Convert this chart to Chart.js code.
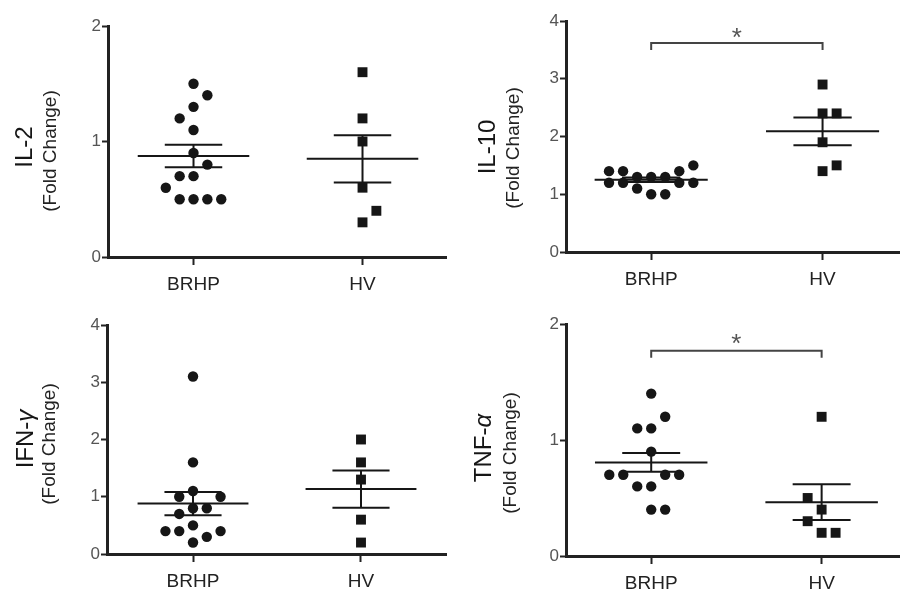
<!DOCTYPE html>
<html>
<head>
<meta charset="utf-8">
<script src="https://cdn.jsdelivr.net/npm/chart.js@4.4.1/dist/chart.umd.min.js"></script>
<style>
  body { margin: 0; background: #fff; }
  canvas { position: absolute; }
</style>
</head>
<body>
<canvas id="il2" width="453" height="295" style="left:0;top:0"></canvas>
<canvas id="il10" width="453" height="295" style="left:453px;top:0"></canvas>
<canvas id="ifn" width="453" height="294" style="left:0;top:295px"></canvas>
<canvas id="tnf" width="453" height="294" style="left:453px;top:295px"></canvas>
<script>
const groups = ['BRHP', 'HV']

// IL-2
const il2Brhp = [1.5, 1.4, 1.3, 1.2, 1.1, 0.9, 0.8, 0.7, 0.7, 0.6, 0.5, 0.5, 0.5, 0.5]
const il2BrhpLane = [0, 1, 0, -1, 0, 0, 1, -1, 0, -2, -1, 0, 1, 2]
const il2Hv = [1.6, 1.2, 1.0, 0.6, 0.4, 0.3]
const il2HvLane = [0, 0, 0, 0, 1, 0]
const il2Mean = [0.875, 0.85]
const il2Sem = [0.097, 0.205]

// IL-10
const il10Brhp = [1.5, 1.4, 1.4, 1.4, 1.3, 1.3, 1.3, 1.2, 1.2, 1.2, 1.2, 1.1, 1.0, 1.0]
const il10BrhpLane = [3, -3, -2, 2, -1, 0, 1, -3, -2, 2, 3, -1, 0, 1]
const il10Hv = [2.9, 2.4, 2.4, 1.9, 1.5, 1.4]
const il10HvLane = [0, 0, 1, 0, 1, 0]
const il10Mean = [1.25, 2.09]
const il10Sem = [0.04, 0.24]

// IFN-gamma
const ifnBrhp = [3.1, 1.6, 1.1, 1.0, 1.0, 0.8, 0.8, 0.7, 0.5, 0.4, 0.4, 0.4, 0.3, 0.2]
const ifnBrhpLane = [0, 0, 0, -1, 2, 0, 1, -1, 0, -2, -1, 2, 1, 0]
const ifnHv = [2.0, 1.6, 1.3, 0.6, 0.2]
const ifnHvLane = [0, 0, 0, 0, 0]
const ifnMean = [0.88, 1.135]
const ifnSem = [0.203, 0.325]

// TNF-alpha
const tnfBrhp = [1.4, 1.2, 1.1, 1.1, 0.9, 0.7, 0.7, 0.7, 0.7, 0.6, 0.6, 0.4, 0.4]
const tnfBrhpLane = [0, 1, -1, 0, 0, -3, -2, 1, 2, -1, 0, 0, 1]
const tnfHv = [1.2, 0.5, 0.4, 0.3, 0.2, 0.2]
const tnfHvLane = [0, -1, 0, -1, 0, 1]
const tnfMean = [0.807, 0.464]
const tnfSem = [0.08, 0.154]

const FONT = '"Liberation Sans", Arial, sans-serif'
const INK = '#161616'
const laneStep = 0.082

function dots(vals, lanes, cat) {
  return vals.map((v, i) => ({ x: cat + lanes[i] * laneStep, y: v }))
}

// mean line + SEM whiskers, gaps separate segments
function meanSem(means, sems) {
  let pts = []
  means.forEach((m, c) => {
    const s = sems[c]
    pts.push({ x: c - 0.33, y: m }, { x: c + 0.33, y: m }, { x: c, y: null })
    pts.push({ x: c - 0.17, y: m + s }, { x: c + 0.17, y: m + s }, { x: c, y: null })
    pts.push({ x: c - 0.17, y: m - s }, { x: c + 0.17, y: m - s }, { x: c, y: null })
    pts.push({ x: c, y: m + s }, { x: c, y: m - s }, { x: c, y: null })
  })
  return pts
}

const panelText = {
  id: 'panelText',
  afterDraw(chart, args, o) {
    const ctx = chart.ctx
    ctx.save()
    ctx.fillStyle = INK
    ctx.textBaseline = 'alphabetic'
    ctx.textAlign = 'left'
    const norm = '24px ' + FONT
    const ital = 'italic 24px ' + FONT
    ctx.font = norm
    const w1 = ctx.measureText(o.name).width
    ctx.font = ital
    const w2 = o.greek ? ctx.measureText(o.greek).width : 0
    ctx.save()
    ctx.translate(o.nameX, o.nameY)
    ctx.rotate(-Math.PI / 2)
    ctx.font = norm
    ctx.fillText(o.name, -(w1 + w2) / 2, 0)
    if (o.greek) {
      ctx.font = ital
      ctx.fillText(o.greek, -(w1 + w2) / 2 + w1, 0)
    }
    ctx.restore()

    ctx.save()
    ctx.translate(o.foldX, o.foldY)
    ctx.rotate(-Math.PI / 2)
    ctx.font = '19px ' + FONT
    ctx.fillStyle = '#222'
    ctx.textAlign = 'center'
    ctx.fillText('(Fold Change)', 0, 0)
    ctx.restore()

    if (o.star) {
      const x = chart.scales.x.getPixelForValue(0.5)
      const y = chart.scales.y.getPixelForValue(o.star)
      ctx.font = '26px ' + FONT
      ctx.fillStyle = '#555'
      ctx.textAlign = 'center'
      ctx.textBaseline = 'middle'
      ctx.fillText('*', x, y + 7)
    }
    ctx.restore()
  }
}

function makePanel(id, p) {
  const canvas = document.getElementById(id)
  const W = canvas.width, H = canvas.height
  const datasets = [
    {
      data: meanSem(p.mean, p.sem), showLine: true, spanGaps: false,
      borderColor: INK, borderWidth: 2, pointRadius: 0
    },
    {
      data: dots(p.brhp, p.brhpLane, 0), pointStyle: 'circle', pointRadius: 5.2,
      backgroundColor: INK, borderWidth: 0
    },
    {
      data: dots(p.hv, p.hvLane, 1), pointStyle: 'rect', pointRadius: 7,
      backgroundColor: INK, borderWidth: 0
    }
  ]
  if (p.bracket) {
    datasets.unshift({
      data: [{ x: 0, y: p.bracket[0] }, { x: 0, y: p.bracket[1] }, { x: 1, y: p.bracket[1] }, { x: 1, y: p.bracket[0] }],
      showLine: true, borderColor: '#444', borderWidth: 2, pointRadius: 0
    })
  }
  new Chart(canvas, {
    type: 'scatter',
    data: { datasets },
    options: {
      responsive: false,
      animation: false,
      layout: { padding: { top: p.top, right: W - p.right, left: 0, bottom: 0 } },
      plugins: {
        legend: { display: false },
        tooltip: { enabled: false },
        panelText: p.text
      },
      scales: {
        x: {
          type: 'linear', min: p.xMin, max: p.xMax,
          afterBuildTicks: s => { s.ticks = [{ value: 0 }, { value: 1 }] },
          afterFit: s => { s.height = H - p.bottom },
          ticks: { callback: v => groups[v], color: '#222', padding: 8, font: { family: FONT, size: 19 } },
          grid: { drawOnChartArea: false, tickLength: 8, tickWidth: 2, tickColor: '#222' },
          border: { color: '#222', width: 3 }
        },
        y: {
          min: 0, max: p.yMax,
          afterFit: s => { s.width = p.left },
          ticks: { stepSize: 1, color: '#555', padding: 1, font: { family: FONT, size: 17 } },
          grid: { drawOnChartArea: false, tickLength: 6, tickWidth: 2, tickColor: '#222' },
          border: { color: '#222', width: 3 }
        }
      }
    },
    plugins: [panelText]
  })
}

makePanel('il2', {
  brhp: il2Brhp, brhpLane: il2BrhpLane, hv: il2Hv, hvLane: il2HvLane, mean: il2Mean, sem: il2Sem,
  yMax: 2, left: 108, top: 26, bottom: 257, right: 452, xMin: -0.506, xMax: 1.494,
  text: { name: 'IL-2', nameX: 32, nameY: 147, foldX: 56, foldY: 151 }
})
makePanel('il10', {
  brhp: il10Brhp, brhpLane: il10BrhpLane, hv: il10Hv, hvLane: il10HvLane, mean: il10Mean, sem: il10Sem,
  yMax: 4, left: 113, top: 21, bottom: 252, right: 453, xMin: -0.497, xMax: 1.446,
  bracket: [3.5, 3.62],
  text: { name: 'IL-10', nameX: 42, nameY: 147, foldX: 66, foldY: 148, star: 3.81 }
})
makePanel('ifn', {
  brhp: ifnBrhp, brhpLane: ifnBrhpLane, hv: ifnHv, hvLane: ifnHvLane, mean: ifnMean, sem: ifnSem,
  yMax: 4, left: 107, top: 30, bottom: 259, right: 450, xMin: -0.512, xMax: 1.506,
  text: { name: 'IFN-', greek: 'γ', nameX: 33, nameY: 144, foldX: 55, foldY: 149 }
})
makePanel('tnf', {
  brhp: tnfBrhp, brhpLane: tnfBrhpLane, hv: tnfHv, hvLane: tnfHvLane, mean: tnfMean, sem: tnfSem,
  yMax: 2, left: 113, top: 29, bottom: 261, right: 453, xMin: -0.5, xMax: 1.454,
  bracket: [1.71, 1.77],
  text: { name: 'TNF-', greek: 'α', nameX: 38, nameY: 153, foldX: 63, foldY: 158, star: 1.88 }
})
</script>
</body>
</html>
